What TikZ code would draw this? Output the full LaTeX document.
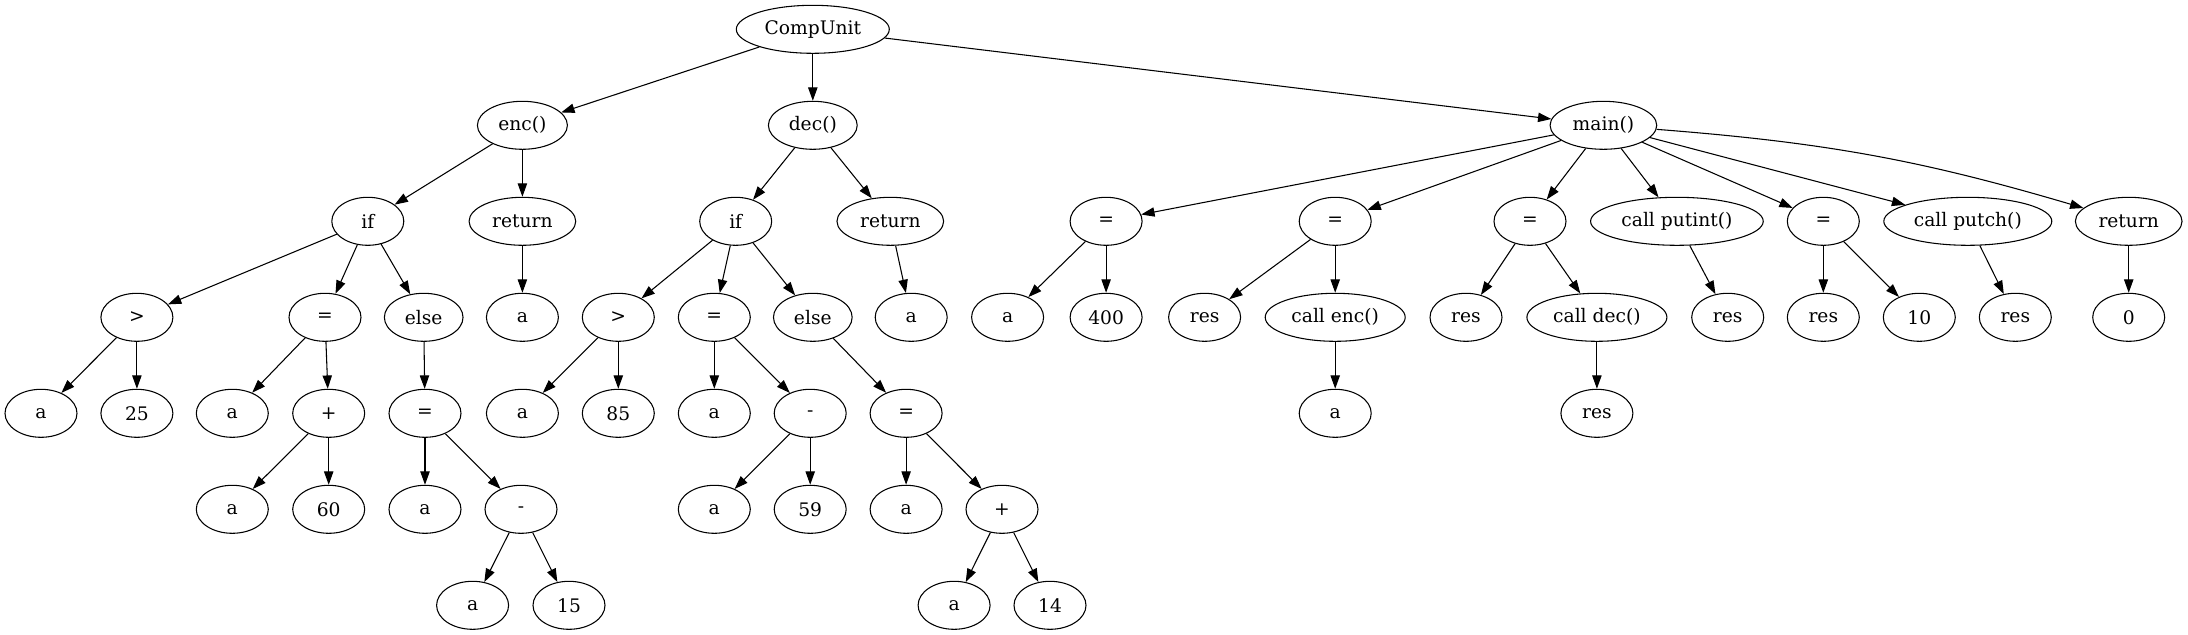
\documentclass[tikz,border=0pt]{standalone}
\usepackage{fontspec}
\setmainfont{DejaVu Serif}
\usetikzlibrary{arrows.meta,shapes.geometric}
\tikzset{
  nd/.style={draw, ellipse, line width=0.8pt, inner sep=0pt, minimum height=36pt, minimum width=54pt, font=\fontsize{14}{16}\selectfont},
  ar/.style={line width=0.8pt, -{Triangle[length=10pt,width=7pt]}},
}
\begin{document}
\begin{tikzpicture}[x=0.75pt,y=-0.75pt]
\useasboundingbox (0,0) rectangle (2188,635);
\def\ra{29.3}\def\rb{125.3}\def\rc{221.3}\def\rd{317.3}\def\re{413.3}\def\rf{509.3}\def\rg{605.3}
% level 0/1
\node[nd, minimum width=114.75pt] (cu) at (812.8,\ra) {CompUnit};
\node[nd, minimum width=67.5pt] (enc) at (522.4,\rb) {enc()};
\node[nd, minimum width=66.6pt] (dec) at (812.8,\rb) {dec()};
\node[nd, minimum width=80pt] (main) at (1603.4,\rb) {main()};
% enc subtree
\node[nd] (eif) at (367.8,\rc) {if};
\node[nd, minimum width=80pt] (eret) at (522.4,\rc) {return};
\node[nd] (egt) at (136.9,\rd) {>};
\node[nd] (eeq) at (325,\rd) {=};
\node[nd, minimum width=59pt] (eelse) at (423.7,\rd) {else};
\node[nd] (eretA) at (522.4,\rd) {a};
\node[nd] (ega) at (41,\re) {a};
\node[nd] (eg25) at (136.9,\re) {25};
\node[nd] (eeqa) at (232.3,\re) {a};
\node[nd] (eplus) at (328.7,\re) {+};
\node[nd] (eeq2) at (425,\re) {=};
\node[nd] (epa) at (232.3,\rf) {a};
\node[nd] (ep60) at (328.7,\rf) {60};
\node[nd] (eeq2a) at (425,\rf) {a};
\node[nd] (emin) at (521,\rf) {-};
\node[nd] (ema) at (472.6,\rg) {a};
\node[nd] (em15) at (569,\rg) {15};
% dec subtree
\node[nd] (dif) at (735.7,\rc) {if};
\node[nd, minimum width=80pt] (dret) at (890.3,\rc) {return};
\node[nd] (dgt) at (618.3,\rd) {>};
\node[nd] (deq) at (714.3,\rd) {=};
\node[nd, minimum width=59pt] (delse) at (812.8,\rd) {else};
\node[nd] (dretA) at (911.2,\rd) {a};
\node[nd] (dga) at (522.4,\re) {a};
\node[nd] (d85) at (618.3,\re) {85};
\node[nd] (deqa) at (714.3,\re) {a};
\node[nd] (dmin) at (810.2,\re) {-};
\node[nd] (deq2) at (906.1,\re) {=};
\node[nd] (dma) at (714.3,\rf) {a};
\node[nd] (d59) at (810.2,\rf) {59};
\node[nd] (deq2a) at (906.1,\rf) {a};
\node[nd] (dplus) at (1002,\rf) {+};
\node[nd] (dpa) at (954.1,\rg) {a};
\node[nd] (d14) at (1050,\rg) {14};
% main subtree
\node[nd] (m1) at (1106.1,\rc) {=};
\node[nd] (m2) at (1335.2,\rc) {=};
\node[nd] (m3) at (1530,\rc) {=};
\node[nd, minimum width=129.5pt] (mput) at (1676.9,\rc) {call putint()};
\node[nd] (m4) at (1823.3,\rc) {=};
\node[nd, minimum width=126pt] (mputch) at (1967.8,\rc) {call putch()};
\node[nd, minimum width=80pt] (mret) at (2128.7,\rc) {return};
\node[nd] (m1a) at (1007.6,\rd) {a};
\node[nd] (m1v) at (1106.1,\rd) {400};
\node[nd] (m2r) at (1204.6,\rd) {res};
\node[nd, minimum width=105pt] (m2c) at (1335.2,\rd) {call enc()};
\node[nd] (m3r) at (1466,\rd) {res};
\node[nd, minimum width=105pt] (m3c) at (1596.9,\rd) {call dec()};
\node[nd] (mputr) at (1727.7,\rd) {res};
\node[nd] (m4r) at (1823.3,\rd) {res};
\node[nd] (m4v) at (1919.3,\rd) {10};
\node[nd] (mputchr) at (2015.3,\rd) {res};
\node[nd] (mret0) at (2128.7,\rd) {0};
\node[nd] (m2ca) at (1335.2,\re) {a};
\node[nd] (m3cr) at (1596.9,\re) {res};
% edges
\foreach \a/\b in {cu/enc,cu/dec,cu/main,
  enc/eif,enc/eret,eif/egt,eif/eeq,eif/eelse,eret/eretA,egt/ega,egt/eg25,eeq/eeqa,eeq/eplus,
  eelse/eeq2,eplus/epa,eplus/ep60,eeq2/eeq2a,eeq2/emin,emin/ema,emin/em15,
  dec/dif,dec/dret,dif/dgt,dif/deq,dif/delse,dret/dretA,dgt/dga,dgt/d85,deq/deqa,deq/dmin,
  delse/deq2,dmin/dma,dmin/d59,deq2/deq2a,deq2/dplus,dplus/dpa,dplus/d14,
  main/m1,main/m2,main/m3,main/mput,main/m4,main/mputch,
  m1/m1a,m1/m1v,m2/m2r,m2/m2c,m2c/m2ca,m3/m3r,m3/m3c,m3c/m3cr,mput/mputr,m4/m4r,m4/m4v,
  mputch/mputchr,mret/mret0}
  \draw[ar] (\a) -- (\b);
\draw[ar] (main) to[bend left=6] (mret);
\end{tikzpicture}
\end{document}
